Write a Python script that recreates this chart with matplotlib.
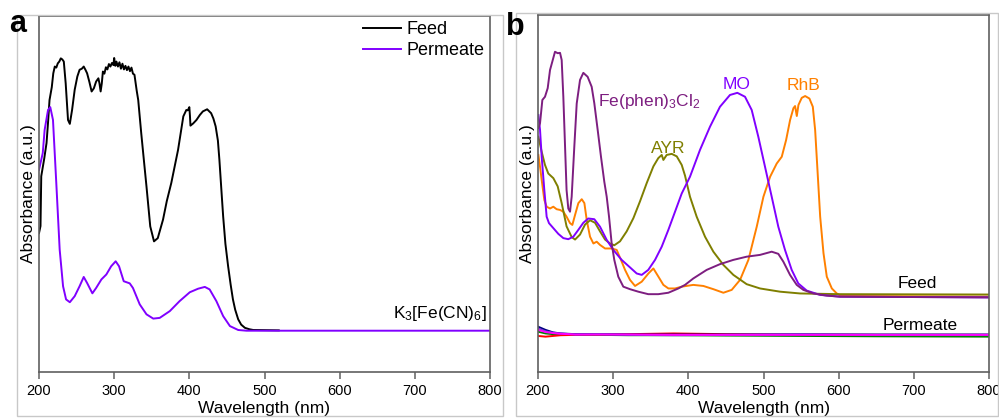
import matplotlib
matplotlib.use("Agg")
import matplotlib.pyplot as plt
from matplotlib.patches import Rectangle

plt.rcParams['font.family'] = ['Liberation Sans', 'DejaVu Sans']
plt.rcParams['mathtext.fontset'] = 'custom'
plt.rcParams['mathtext.rm'] = 'Liberation Sans'
plt.rcParams['mathtext.it'] = 'Liberation Sans:italic'
plt.rcParams['mathtext.bf'] = 'Liberation Sans:bold'

# ---------------- Panel a data: K3[Fe(CN)6] ----------------
a_feed_nm = [200, 202, 203, 207, 210, 212, 214, 217, 219, 221, 223, 225, 227, 229, 231, 233,
             235.5, 238.6, 241, 244, 247.5, 251, 254, 257, 259.5, 262, 264, 267, 270, 273, 276,
             279, 280.5, 282, 283.5, 285, 287, 289, 291, 293, 295, 297, 299, 300, 301.5, 303,
             305, 307, 309, 311, 313, 315, 317, 319, 321, 323, 325, 327, 330, 332, 336, 340,
             343, 348, 353, 358, 365, 370, 376, 385, 392, 396, 398, 400, 400.8, 401.5, 405,
             409.5, 414, 418, 423.7, 429, 432, 435, 438, 440, 443, 445, 448, 451.6, 455, 458,
             461, 465, 469, 474, 480, 485, 519]
a_feed_abs = [0.39, 0.41, 0.55, 0.60, 0.643, 0.70, 0.764, 0.80, 0.839, 0.858, 0.855, 0.867,
              0.872, 0.881, 0.878, 0.872, 0.811, 0.708, 0.697, 0.736, 0.793, 0.83, 0.849, 0.852,
              0.858, 0.848, 0.839, 0.815, 0.788, 0.797, 0.816, 0.825, 0.81, 0.788, 0.81, 0.844,
              0.838, 0.856, 0.850, 0.865, 0.858, 0.868, 0.862, 0.882, 0.860, 0.872, 0.858, 0.870,
              0.852, 0.866, 0.850, 0.860, 0.848, 0.858, 0.845, 0.855, 0.838, 0.835, 0.79, 0.764,
              0.671, 0.585, 0.521, 0.409, 0.367, 0.376, 0.428, 0.48, 0.531, 0.624, 0.718, 0.736,
              0.735, 0.744, 0.72, 0.692, 0.698, 0.708, 0.722, 0.732, 0.738, 0.727, 0.712, 0.690,
              0.65, 0.596, 0.50, 0.437, 0.36, 0.297, 0.245, 0.204, 0.175, 0.148, 0.133, 0.124,
              0.12, 0.118, 0.117]

a_perm_nm = [200, 205, 207.5, 212, 215, 218.6, 223, 227.5, 232, 236, 241, 247.5, 254, 259.5,
             264, 271, 276, 283, 289.6, 296, 302, 306.5, 312.7, 320.7, 325, 334, 343, 352,
             360.6, 374, 387, 400.6, 411.7, 420.6, 427, 436, 445, 454, 465, 476, 800]
a_perm_abs = [0.568, 0.615, 0.680, 0.736, 0.744, 0.708, 0.531, 0.344, 0.241, 0.204, 0.196,
              0.213, 0.241, 0.267, 0.250, 0.221, 0.236, 0.260, 0.274, 0.297, 0.311, 0.297,
              0.255, 0.249, 0.236, 0.190, 0.162, 0.150, 0.152, 0.171, 0.199, 0.224, 0.234,
              0.239, 0.232, 0.199, 0.157, 0.129, 0.118, 0.116, 0.116]

# ---------------- Panel b data: dyes ----------------
fe_nm = [200.5, 202.7, 205.8, 209.3, 212.9, 216, 219, 222.6, 226.2, 229.3, 231.5, 233.7, 236,
         238, 240.3, 242.6, 244.8, 248.3, 251.5, 255.9, 260.3, 266, 271.4, 274.9, 279.4, 283.8,
         288.2, 291.4, 294.5, 298, 301.5, 306.8, 313.5, 322.4, 333.4, 346.7, 360, 373.4, 386.7,
         395.6, 406.6, 424.4, 442, 459.8, 477.6, 495.3, 510.9, 519.7, 526.4, 535.3, 544.2, 553,
         566.3, 584, 601.8, 800]
fe_abs = [0.683, 0.697, 0.762, 0.771, 0.795, 0.846, 0.869, 0.897, 0.893, 0.894, 0.874, 0.771,
          0.631, 0.510, 0.458, 0.449, 0.491, 0.631, 0.752, 0.818, 0.838, 0.827, 0.799, 0.753,
          0.678, 0.603, 0.533, 0.491, 0.435, 0.360, 0.314, 0.267, 0.239, 0.232, 0.225, 0.218,
          0.218, 0.222, 0.234, 0.244, 0.262, 0.286, 0.302, 0.314, 0.323, 0.328, 0.337, 0.331,
          0.309, 0.272, 0.244, 0.230, 0.220, 0.214, 0.211, 0.209]

mo_nm = [200.5, 202.7, 204.9, 208.4, 211.5, 214.6, 220.4, 227, 233.7, 240.3, 247, 253.6, 260.3,
         266.9, 274.9, 282.5, 291.4, 300.2, 311.3, 322.4, 331.3, 338, 346.7, 355.7, 364.6,
         373.4, 382.3, 391.2, 402.2, 415.5, 428.8, 442.1, 455.4, 465.2, 475.4, 484.3, 493.1,
         502, 510.9, 519.7, 528.6, 537.5, 546.3, 557.5, 575.2, 601.8, 800]
mo_abs = [0.720, 0.678, 0.603, 0.510, 0.435, 0.417, 0.403, 0.387, 0.375, 0.372, 0.379, 0.398,
          0.418, 0.430, 0.428, 0.407, 0.370, 0.342, 0.314, 0.293, 0.276, 0.272, 0.286, 0.314,
          0.351, 0.398, 0.449, 0.500, 0.547, 0.622, 0.687, 0.743, 0.776, 0.782, 0.771, 0.734,
          0.659, 0.575, 0.491, 0.407, 0.342, 0.286, 0.248, 0.228, 0.216, 0.211, 0.209]

ayr_nm = [200.5, 204.9, 209.3, 213.7, 220.4, 226.2, 231.5, 238, 244.8, 249.3, 255.9, 262.6,
          269.2, 275.9, 282.5, 289.2, 295.8, 301.5, 309.1, 318, 326.9, 335.7, 344.6, 353.5,
          360, 364.6, 366.8, 371.2, 377.9, 384.6, 391.2, 395.6, 402.2, 411.1, 422.2, 433.3,
          446.6, 459.9, 477.6, 495.4, 522, 548.6, 601.8, 800]
ayr_abs = [0.659, 0.617, 0.580, 0.556, 0.543, 0.520, 0.473, 0.408, 0.378, 0.371, 0.385, 0.413,
           0.425, 0.418, 0.394, 0.371, 0.360, 0.355, 0.366, 0.394, 0.431, 0.478, 0.529, 0.576,
           0.599, 0.608, 0.594, 0.608, 0.611, 0.604, 0.580, 0.550, 0.491, 0.435, 0.379, 0.337,
           0.300, 0.272, 0.246, 0.234, 0.225, 0.220, 0.218, 0.217]

rhb_nm = [200.5, 202.7, 204.9, 208.4, 211.5, 216, 220.4, 224.8, 229.3, 233.7, 238, 242.6, 245.7,
          249.3, 253.7, 258.2, 261.7, 264.8, 269.2, 273.7, 278.1, 282.5, 289.2, 298, 304.7,
          310.4, 315.8, 322.4, 329.1, 338, 346.9, 353.5, 360.2, 366.8, 373.5, 382.3, 391.2,
          406.6, 420, 433.3, 446.6, 457.7, 468.8, 479.9, 491, 499.9, 508.8, 517.6, 524.3, 530.1,
          535.4, 539.8, 542, 544.3, 546.5, 550.9, 555.4, 561.1, 565.6, 568.7, 571.8, 575.4,
          579.8, 584.2, 590.9, 597.5, 603, 800]
rhb_abs = [0.608, 0.575, 0.538, 0.482, 0.463, 0.458, 0.463, 0.456, 0.454, 0.449, 0.435, 0.417,
           0.412, 0.440, 0.473, 0.484, 0.473, 0.426, 0.379, 0.360, 0.365, 0.356, 0.346, 0.346,
           0.342, 0.314, 0.286, 0.258, 0.241, 0.253, 0.276, 0.290, 0.267, 0.244, 0.234, 0.234,
           0.239, 0.244, 0.241, 0.232, 0.222, 0.230, 0.258, 0.314, 0.407, 0.491, 0.547, 0.584,
           0.603, 0.650, 0.706, 0.739, 0.745, 0.717, 0.748, 0.768, 0.773, 0.766, 0.743, 0.678,
           0.566, 0.435, 0.333, 0.267, 0.234, 0.220, 0.213, 0.211]

perm_nm = [200, 210, 220, 230, 250, 280, 320, 380, 450, 550, 650, 800]
perm_navy = [0.127, 0.118, 0.111, 0.108, 0.106, 0.106, 0.105, 0.105, 0.105, 0.105, 0.105, 0.105]
perm_green = [0.113, 0.108, 0.106, 0.105, 0.104, 0.104, 0.103, 0.103, 0.102, 0.101, 0.100, 0.099]
perm_red = [0.101, 0.099, 0.101, 0.103, 0.104, 0.105, 0.106, 0.108, 0.106, 0.105, 0.104, 0.104]
perm_blue = [0.122, 0.114, 0.110, 0.108, 0.105, 0.106, 0.104, 0.103, 0.104, 0.106, 0.104, 0.104]
perm_magenta = [0.118, 0.112, 0.109, 0.107, 0.105, 0.105, 0.105, 0.104, 0.104, 0.104, 0.104, 0.104]

x_ticks = [200, 300, 400, 500, 600, 700, 800]

W, H = 999, 419
fig = plt.figure(figsize=(W / 100, H / 100), dpi=100)

# panel frames
for (x0, y0, x1, y1) in [(17, 15, 503, 416), (516, 13, 998, 416)]:
    fig.patches.append(Rectangle((x0 / W, 1 - y1 / H), (x1 - x0) / W, (y1 - y0) / H,
                                 transform=fig.transFigure, fill=False,
                                 edgecolor='#c8c8c8', linewidth=1.0))

axa = fig.add_axes([39 / W, 1 - 372 / H, 451 / W, (372 - 16) / H])
axb = fig.add_axes([538 / W, 1 - 372 / H, 451 / W, (372 - 15) / H])

spine_col = '#606060'
for ax in (axa, axb):
    ax.set_xlim(200, 800)
    ax.set_ylim(0, 1)
    ax.set_xticks(x_ticks)
    ax.set_yticks([])
    for s in ax.spines.values():
        s.set_color(spine_col)
        s.set_linewidth(1.2)
    ax.tick_params(axis='x', direction='out', length=5, width=1.1, color=spine_col,
                   labelsize=10.5, pad=3.5)
    ax.set_xlabel('Wavelength (nm)', fontsize=12.5, labelpad=2.5)
    ax.set_ylabel('Absorbance (a.u.)', fontsize=12.5, labelpad=2)

# panel a
lw = 1.4
axa.plot(a_feed_nm, a_feed_abs, color='black', lw=lw, label='Feed')
axa.plot(a_perm_nm, a_perm_abs, color='#8000ff', lw=lw, label='Permeate')
axa.legend(loc='upper right', frameon=False, fontsize=13, handlelength=2.1,
           handletextpad=0.3, labelspacing=0.2, borderaxespad=0.1, borderpad=0.2)
axa.text(796, 0.152, r'K$_3$[Fe(CN)$_6$]', fontsize=12.5, ha='right', va='baseline')

# panel b
axb.plot(perm_nm, perm_green, color='#008000', lw=lw)
axb.plot(perm_nm, perm_red, color='#ff0000', lw=lw)
axb.plot(perm_nm, perm_navy, color='#000080', lw=lw)
axb.plot(perm_nm, perm_blue, color='#6a3ad0', lw=lw)
axb.plot(perm_nm, perm_magenta, color='#ff00ff', lw=lw)

c_fe, c_mo, c_ayr, c_rhb = '#7d1e80', '#8000ff', '#7f7f00', '#ff8000'
axb.plot(rhb_nm, rhb_abs, color=c_rhb, lw=lw)
axb.plot(ayr_nm, ayr_abs, color=c_ayr, lw=lw)
axb.plot(mo_nm, mo_abs, color=c_mo, lw=lw)
axb.plot(fe_nm, fe_abs, color=c_fe, lw=lw)

axb.text(279.8, 0.745, r'Fe(phen)$_3$Cl$_2$', color=c_fe, fontsize=12.5, ha='left', va='baseline')
axb.text(373, 0.614, 'AYR', color=c_ayr, fontsize=12.5, ha='center', va='baseline')
axb.text(464.7, 0.792, 'MO', color=c_mo, fontsize=12.5, ha='center', va='baseline')
axb.text(552.6, 0.790, 'RhB', color=c_rhb, fontsize=12.5, ha='center', va='baseline')
axb.text(704, 0.235, 'Feed', color='black', fontsize=12.5, ha='center', va='baseline')
axb.text(708, 0.118, 'Permeate', color='black', fontsize=12.5, ha='center', va='baseline')

# panel letters
fig.text(9 / W, 1 - 32 / H, 'a', fontsize=22, fontweight='bold', va='baseline', ha='left')
fig.text(506 / W, 1 - 35 / H, 'b', fontsize=22, fontweight='bold', va='baseline', ha='left')

fig.savefig('out.png', dpi=100, facecolor='white')
